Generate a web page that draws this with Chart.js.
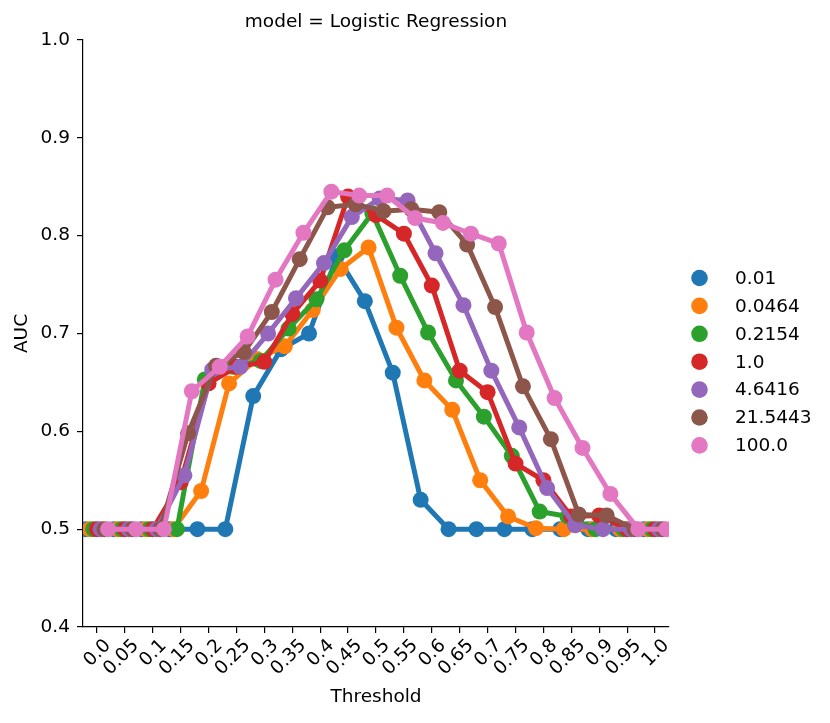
<!DOCTYPE html>
<html>
<head>
<meta charset="utf-8">
<script src="https://cdn.jsdelivr.net/npm/chart.js@4.4.0/dist/chart.umd.min.js"></script>
<style>
  html, body { margin: 0; padding: 0; background: #fff; }
  #wrap { width: 830px; height: 723px; }
</style>
</head>
<body>
<div id="wrap"><canvas id="chart"></canvas></div>
<script>
// x categories (threshold) and hue levels (C)
const thresholds = ["0.0", "0.05", "0.1", "0.15", "0.2", "0.25", "0.3", "0.35", "0.4", "0.45", "0.5",
  "0.55", "0.6", "0.65", "0.7", "0.75", "0.8", "0.85", "0.9", "0.95", "1.0"];
const cLabels = ["0.01", "0.0464", "0.2154", "1.0", "4.6416", "21.5443", "100.0"];

// AUC per threshold, one array per C value
const aucC0_01 = [0.5, 0.5, 0.5, 0.5, 0.5, 0.5, 0.636, 0.684, 0.700, 0.779, 0.733, 0.660, 0.530, 0.5, 0.5, 0.5, 0.5, 0.5, 0.5, 0.5, 0.5];
const aucC0_0464 = [0.5, 0.5, 0.5, 0.5, 0.539, 0.649, 0.674, 0.687, 0.724, 0.766, 0.788, 0.706, 0.652, 0.622, 0.550, 0.513, 0.501, 0.5, 0.5, 0.5, 0.5];
const aucC0_2154 = [0.5, 0.5, 0.5, 0.5, 0.653, 0.666, 0.672, 0.705, 0.735, 0.785, 0.823, 0.759, 0.701, 0.652, 0.615, 0.575, 0.518, 0.513, 0.5, 0.5, 0.5];
const aucC1_0 = [0.5, 0.5, 0.5, 0.548, 0.649, 0.666, 0.671, 0.720, 0.754, 0.840, 0.821, 0.802, 0.749, 0.662, 0.640, 0.567, 0.550, 0.513, 0.514, 0.5, 0.5];
const aucC4_6416 = [0.5, 0.5, 0.5, 0.555, 0.663, 0.666, 0.700, 0.736, 0.772, 0.819, 0.838, 0.836, 0.782, 0.729, 0.662, 0.604, 0.542, 0.504, 0.5, 0.5, 0.5];
const aucC21_5443 = [0.5, 0.5, 0.5, 0.598, 0.667, 0.681, 0.722, 0.776, 0.829, 0.832, 0.825, 0.827, 0.824, 0.791, 0.727, 0.646, 0.592, 0.515, 0.514, 0.5, 0.5];
const aucC100_0 = [0.5, 0.5, 0.5, 0.641, 0.666, 0.697, 0.755, 0.803, 0.845, 0.841, 0.841, 0.818, 0.813, 0.802, 0.792, 0.701, 0.634, 0.583, 0.536, 0.5, 0.5];

const series = [aucC0_01, aucC0_0464, aucC0_2154, aucC1_0, aucC4_6416, aucC21_5443, aucC100_0];
const colors = ["#1f77b4", "#ff7f0e", "#2ca02c", "#d62728", "#9467bd", "#8c564b", "#e377c2"];

const FONT = "'DejaVu Sans', sans-serif";
const FS = 18.5;

// seaborn-like dodge of the hue levels within each category
const dodge = 0.8;
const offsets = cLabels.map((_, k) => -dodge / 2 + k * dodge / (cLabels.length - 1));

const datasets = series.map((vals, k) => ({
  label: cLabels[k],
  data: vals.map((v, i) => ({ x: i + offsets[k], y: v })),
  borderColor: colors[k],
  backgroundColor: colors[k],
  pointBackgroundColor: colors[k],
  borderWidth: 5,
  pointRadius: 8,
  pointBorderWidth: 0,
  pointHoverRadius: 8,
  tension: 0,
  clip: 0,
  order: cLabels.length - 1 - k
}));

// legend at the right, outside the axes
const sideLegend = {
  id: "sideLegend",
  afterDraw(chart) {
    const ctx = chart.ctx;
    ctx.save();
    ctx.font = FS + "px " + FONT;
    ctx.textBaseline = "middle";
    ctx.textAlign = "left";
    chart.data.datasets.forEach((ds, i) => {
      const y = 278 + i * 27.9;
      ctx.fillStyle = ds.pointBackgroundColor;
      ctx.beginPath();
      ctx.arc(699.5, y, 8.3, 0, Math.PI * 2);
      ctx.fill();
      ctx.fillStyle = "#000";
      ctx.fillText(ds.label, 735, y + 1);
    });
    ctx.restore();
  }
};

Chart.defaults.font.family = FONT;
Chart.defaults.color = "#000";

new Chart(document.getElementById("chart"), {
  type: "line",
  data: { datasets: datasets },
  plugins: [sideLegend],
  options: {
    responsive: true,
    maintainAspectRatio: false,
    animation: false,
    layout: { padding: { right: 161 } },
    plugins: {
      legend: { display: false },
      tooltip: { enabled: false },
      title: {
        display: true,
        text: "model = Logistic Regression",
        fullSize: false,
        color: "#000",
        font: { size: FS, weight: "normal" },
        padding: { top: 11, bottom: 6.8 }
      }
    },
    scales: {
      x: {
        type: "linear",
        min: -0.5,
        max: 20.5,
        afterBuildTicks: (s) => { s.ticks = thresholds.map((_, i) => ({ value: i })); },
        afterFit: (s) => { s.height = 96; },
        ticks: {
          autoSkip: false,
          minRotation: 45,
          maxRotation: 45,
          labelOffset: 11,
          padding: 2,
          color: "#000",
          font: { size: FS },
          callback: (v, i) => thresholds[i]
        },
        grid: { drawOnChartArea: false, drawTicks: true, tickLength: 6, color: "#000", lineWidth: 1.2 },
        border: { display: true, color: "#000", width: 1.2 },
        title: { display: true, text: "Threshold", color: "#000", font: { size: FS }, padding: { top: 0, bottom: 15 } }
      },
      y: {
        type: "linear",
        min: 0.4,
        max: 1.0,
        afterFit: (s) => { s.width = 83; },
        ticks: {
          stepSize: 0.1,
          padding: 7,
          color: "#000",
          font: { size: FS },
          callback: (v) => v.toFixed(1)
        },
        grid: { drawOnChartArea: false, drawTicks: true, tickLength: 6, color: "#000", lineWidth: 1.2 },
        border: { display: true, color: "#000", width: 1.2 },
        title: { display: true, text: "AUC", color: "#000", font: { size: FS }, padding: { top: 11, bottom: 0 } }
      }
    }
  }
});
</script>
</body>
</html>
